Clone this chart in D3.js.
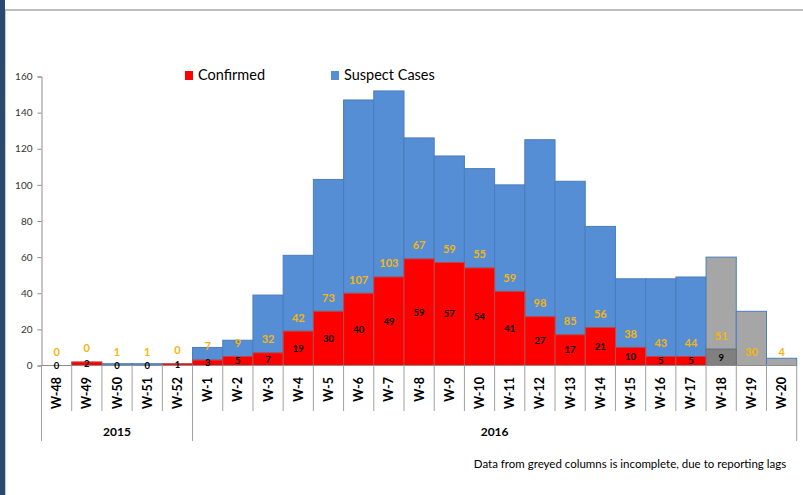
<!DOCTYPE html>
<html>
<head>
<meta charset="utf-8">
<script src="https://cdn.jsdelivr.net/npm/d3@7"></script>
<style>
  html, body { margin: 0; padding: 0; background: #fff; }
  svg { display: block; font-family: Lato, "Open Sans", sans-serif; }
</style>
</head>
<body>
<svg id="chart" width="803" height="495"></svg>
<script>
// Epidemiological weeks, late 2015 through 2016
const weeks = ["W-48","W-49","W-50","W-51","W-52",
  "W-1","W-2","W-3","W-4","W-5","W-6","W-7","W-8","W-9","W-10",
  "W-11","W-12","W-13","W-14","W-15","W-16","W-17","W-18","W-19","W-20"];
const confirmed = [0,2,0,0,1, 3,5,7,19,30,40,49,59,57,54,41,27,17,21,10,5,5,9,null,null];
const suspect   = [0,0,1,1,0, 7,9,32,42,73,107,103,67,59,55,59,98,85,56,38,43,44,51,30,4];
// Weeks whose reporting is still incomplete
const greyedWeeks = ["W-18","W-19","W-20"];
const years = [
  { label: "2015", first: "W-48", last: "W-52" },
  { label: "2016", first: "W-1",  last: "W-20" }
];
const yTicks = [0,20,40,60,80,100,120,140,160];
const seriesNames = ["Confirmed","Suspect Cases"];
const note = "Data from greyed columns is incomplete, due to reporting lags";

const svg = d3.select("#chart");

// Page frame: dark side strip and top rule
svg.append("rect").attr("x",0).attr("y",0).attr("width",5).attr("height",495).attr("fill","#2b4a6f");
svg.append("line").attr("x1",5.5).attr("x2",5.5).attr("y1",10).attr("y2",495).attr("stroke","#c8c8c8");
svg.append("rect").attr("x",5).attr("y",9).attr("width",798).attr("height",2).attr("fill","#bdbdbd");

const x = d3.scaleBand().domain(weeks).range([41.5, 796.7]).padding(0);
const y = d3.scaleLinear().domain([0,160]).range([365.5, 76.5]);

const rows = weeks.map((w,i) => ({ week: w, confirmed: confirmed[i] || 0, suspect: suspect[i] || 0,
  cLabel: confirmed[i], sLabel: suspect[i], grey: greyedWeeks.includes(w) }));
const stack = d3.stack().keys(["confirmed","suspect"])(rows);

const colors = {
  confirmed: d => d.data.grey ? "#808080" : "#ff0000",
  suspect: d => d.data.grey ? "#a6a6a6" : "#558ed5"
};
const strokes = {
  confirmed: d => d.data.grey ? "#6e6e6e" : "#b84a4a",
  suspect: () => "#4a7dbb"
};

const barsG = svg.append("g");
// suspect drawn first so confirmed edges sit on top
[stack[1], stack[0]].forEach(layer => {
  barsG.append("g").selectAll("rect")
    .data(layer.filter(d => d[1] > d[0]))
    .join("rect")
    .attr("x", d => x(d.data.week))
    .attr("width", x.bandwidth())
    .attr("y", d => y(d[1]))
    .attr("height", d => y(d[0]) - y(d[1]))
    .attr("fill", colors[layer.key])
    .attr("stroke", strokes[layer.key])
    .attr("stroke-width", 1);
});

// Y axis
const yAxis = svg.append("g").attr("transform","translate(41.5,0)")
  .call(d3.axisLeft(y).tickValues(yTicks).tickSize(4).tickPadding(5));
yAxis.select(".domain").attr("stroke","#8c8c8c");
yAxis.selectAll(".tick line").attr("stroke","#8c8c8c");
yAxis.selectAll(".tick text").attr("fill","#333").attr("font-size","10px").attr("font-family","Lato, sans-serif");

// Baseline
svg.append("line").attr("x1",41.5).attr("x2",796.7).attr("y1",y(0)).attr("y2",y(0))
  .attr("stroke","#8c8c8c").attr("stroke-width",1.2);

// Category separators and labels
const edges = weeks.map(w => x(w)).concat([x(weeks[weeks.length-1]) + x.bandwidth()]);
const yearEdges = new Set();
years.forEach(g => { yearEdges.add(x(g.first)); yearEdges.add(x(g.last) + x.bandwidth()); });
svg.append("g").selectAll("line").data(edges).join("line")
  .attr("x1", d => d).attr("x2", d => d)
  .attr("y1", y(0)).attr("y2", d => yearEdges.has(d) ? 441 : 411)
  .attr("stroke","#a0a0a0");

svg.append("g").selectAll("text").data(weeks).join("text")
  .attr("transform", w => `translate(${x(w) + x.bandwidth()/2 + 4.5},377) rotate(-90)`)
  .attr("text-anchor","end")
  .attr("font-size","12.5px").attr("font-weight","bold").attr("fill","#000")
  .text(w => w);

svg.append("g").selectAll("text").data(years).join("text")
  .attr("x", g => (x(g.first) + x(g.last) + x.bandwidth())/2)
  .attr("y", 436)
  .attr("text-anchor","middle").attr("font-size","12px").attr("font-weight","bold")
  .text(g => g.label);

// Value labels
svg.append("g").selectAll("text").data(rows.filter(r => r.sLabel != null)).join("text")
  .attr("x", r => x(r.week) + x.bandwidth()/2)
  .attr("y", r => y(r.confirmed) - 13.5)
  .attr("dy","0.35em")
  .attr("text-anchor","middle").attr("font-size","11px").attr("font-weight","bold")
  .attr("fill","#f5b50a")
  .text(r => r.sLabel);

svg.append("g").selectAll("text").data(rows.filter(r => r.cLabel != null)).join("text")
  .attr("x", r => x(r.week) + x.bandwidth()/2)
  .attr("y", r => (y(0) + y(r.confirmed))/2)
  .attr("dy","0.35em")
  .attr("text-anchor","middle").attr("font-size","9.5px").attr("font-weight","bold")
  .attr("fill","#000")
  .text(r => r.cLabel);

// Legend
const legend = svg.append("g").selectAll("g").data(seriesNames).join("g")
  .attr("transform", (d,i) => `translate(${[185,331][i]},71)`);
legend.append("rect").attr("width",8).attr("height",9)
  .attr("fill", (d,i) => ["#ff0000","#558ed5"][i]);
legend.append("text").attr("x",13).attr("y",9).attr("font-size","14.5px").attr("fill","#000")
  .text(d => d);

// Footnote
svg.append("text").attr("x",630).attr("y",468).attr("text-anchor","middle")
  .attr("font-size","11.5px").attr("fill","#000").text(note);
</script>
</body>
</html>
